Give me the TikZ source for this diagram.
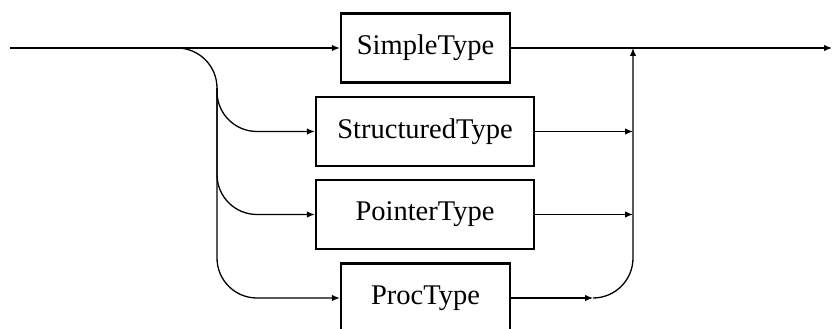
\documentclass[tikz,border=0pt]{standalone}
\usepackage{fontspec}
\setmainfont{Liberation Serif}
\usetikzlibrary{arrows.meta}
\begin{document}
\begin{tikzpicture}[x=1pt,y=-1pt]
%%%%%%%%%%%%%%%%%%%%%%%%%%%%%%%%%%%%%%%%%%%%%%%%%%%%%%%%
% STYLE
\tikzstyle{term}=[rectangle,draw,line width=2.3pt,minimum height=69pt,inner sep=0pt,font=\fontsize{28.5}{34}\selectfont]
\tikzstyle{txt}=[font=\fontsize{28.5}{34}\selectfont]

\tikzset{link/.style={-{Latex[length=8pt,width=6.5pt]},line width=1.3pt}}
\tikzset{wire/.style={line width=1.3pt,rounded corners=40pt}}

\useasboundingbox (0,0) rectangle (833,329);
%%%%%%%%%%%%%%%%%%%%%%%%%%%%%%%%%%%%%%%%%%%%%%%%%%%%%%%%
% NODES
\node[term,minimum width=169pt] (simple) at (425.5,48) {SimpleType};
\node[term,minimum width=218pt] (struct) at (425,131.5) {StructuredType};
\node[term,minimum width=218pt] (ptr) at (425,214.5) {PointerType};
\node[term,minimum width=169pt] (proc) at (425.5,298) {ProcType};

\coordinate (in) at (10,48);
\coordinate (out) at (832,48);
\coordinate (down) at (217,298);
\coordinate (bus) at (217,88);
\coordinate (join) at (633,48);
\coordinate (ret) at (593,298);
%%%%%%%%%%%%%%%%%%%%%%%%%%%%%%%%%%%%%%%%%%%%%%%%%%%%%%%%
% LINKS
\draw[link] (in) -- (simple.west);
\draw[link,wire] (in) -| (down) -- (proc.west);
\draw[link,wire] (bus) |- (struct.west);
\draw[link,wire] (bus) |- (ptr.west);
\draw[link] (simple.east) -- (out);
\draw[link] (struct.east) -- (join |- struct.east);
\draw[link] (ptr.east) -- (join |- ptr.east);
\draw[link] (proc.east) -- (ret);
\draw[link,wire] (ret) -| (join);
\end{tikzpicture}
\end{document}
